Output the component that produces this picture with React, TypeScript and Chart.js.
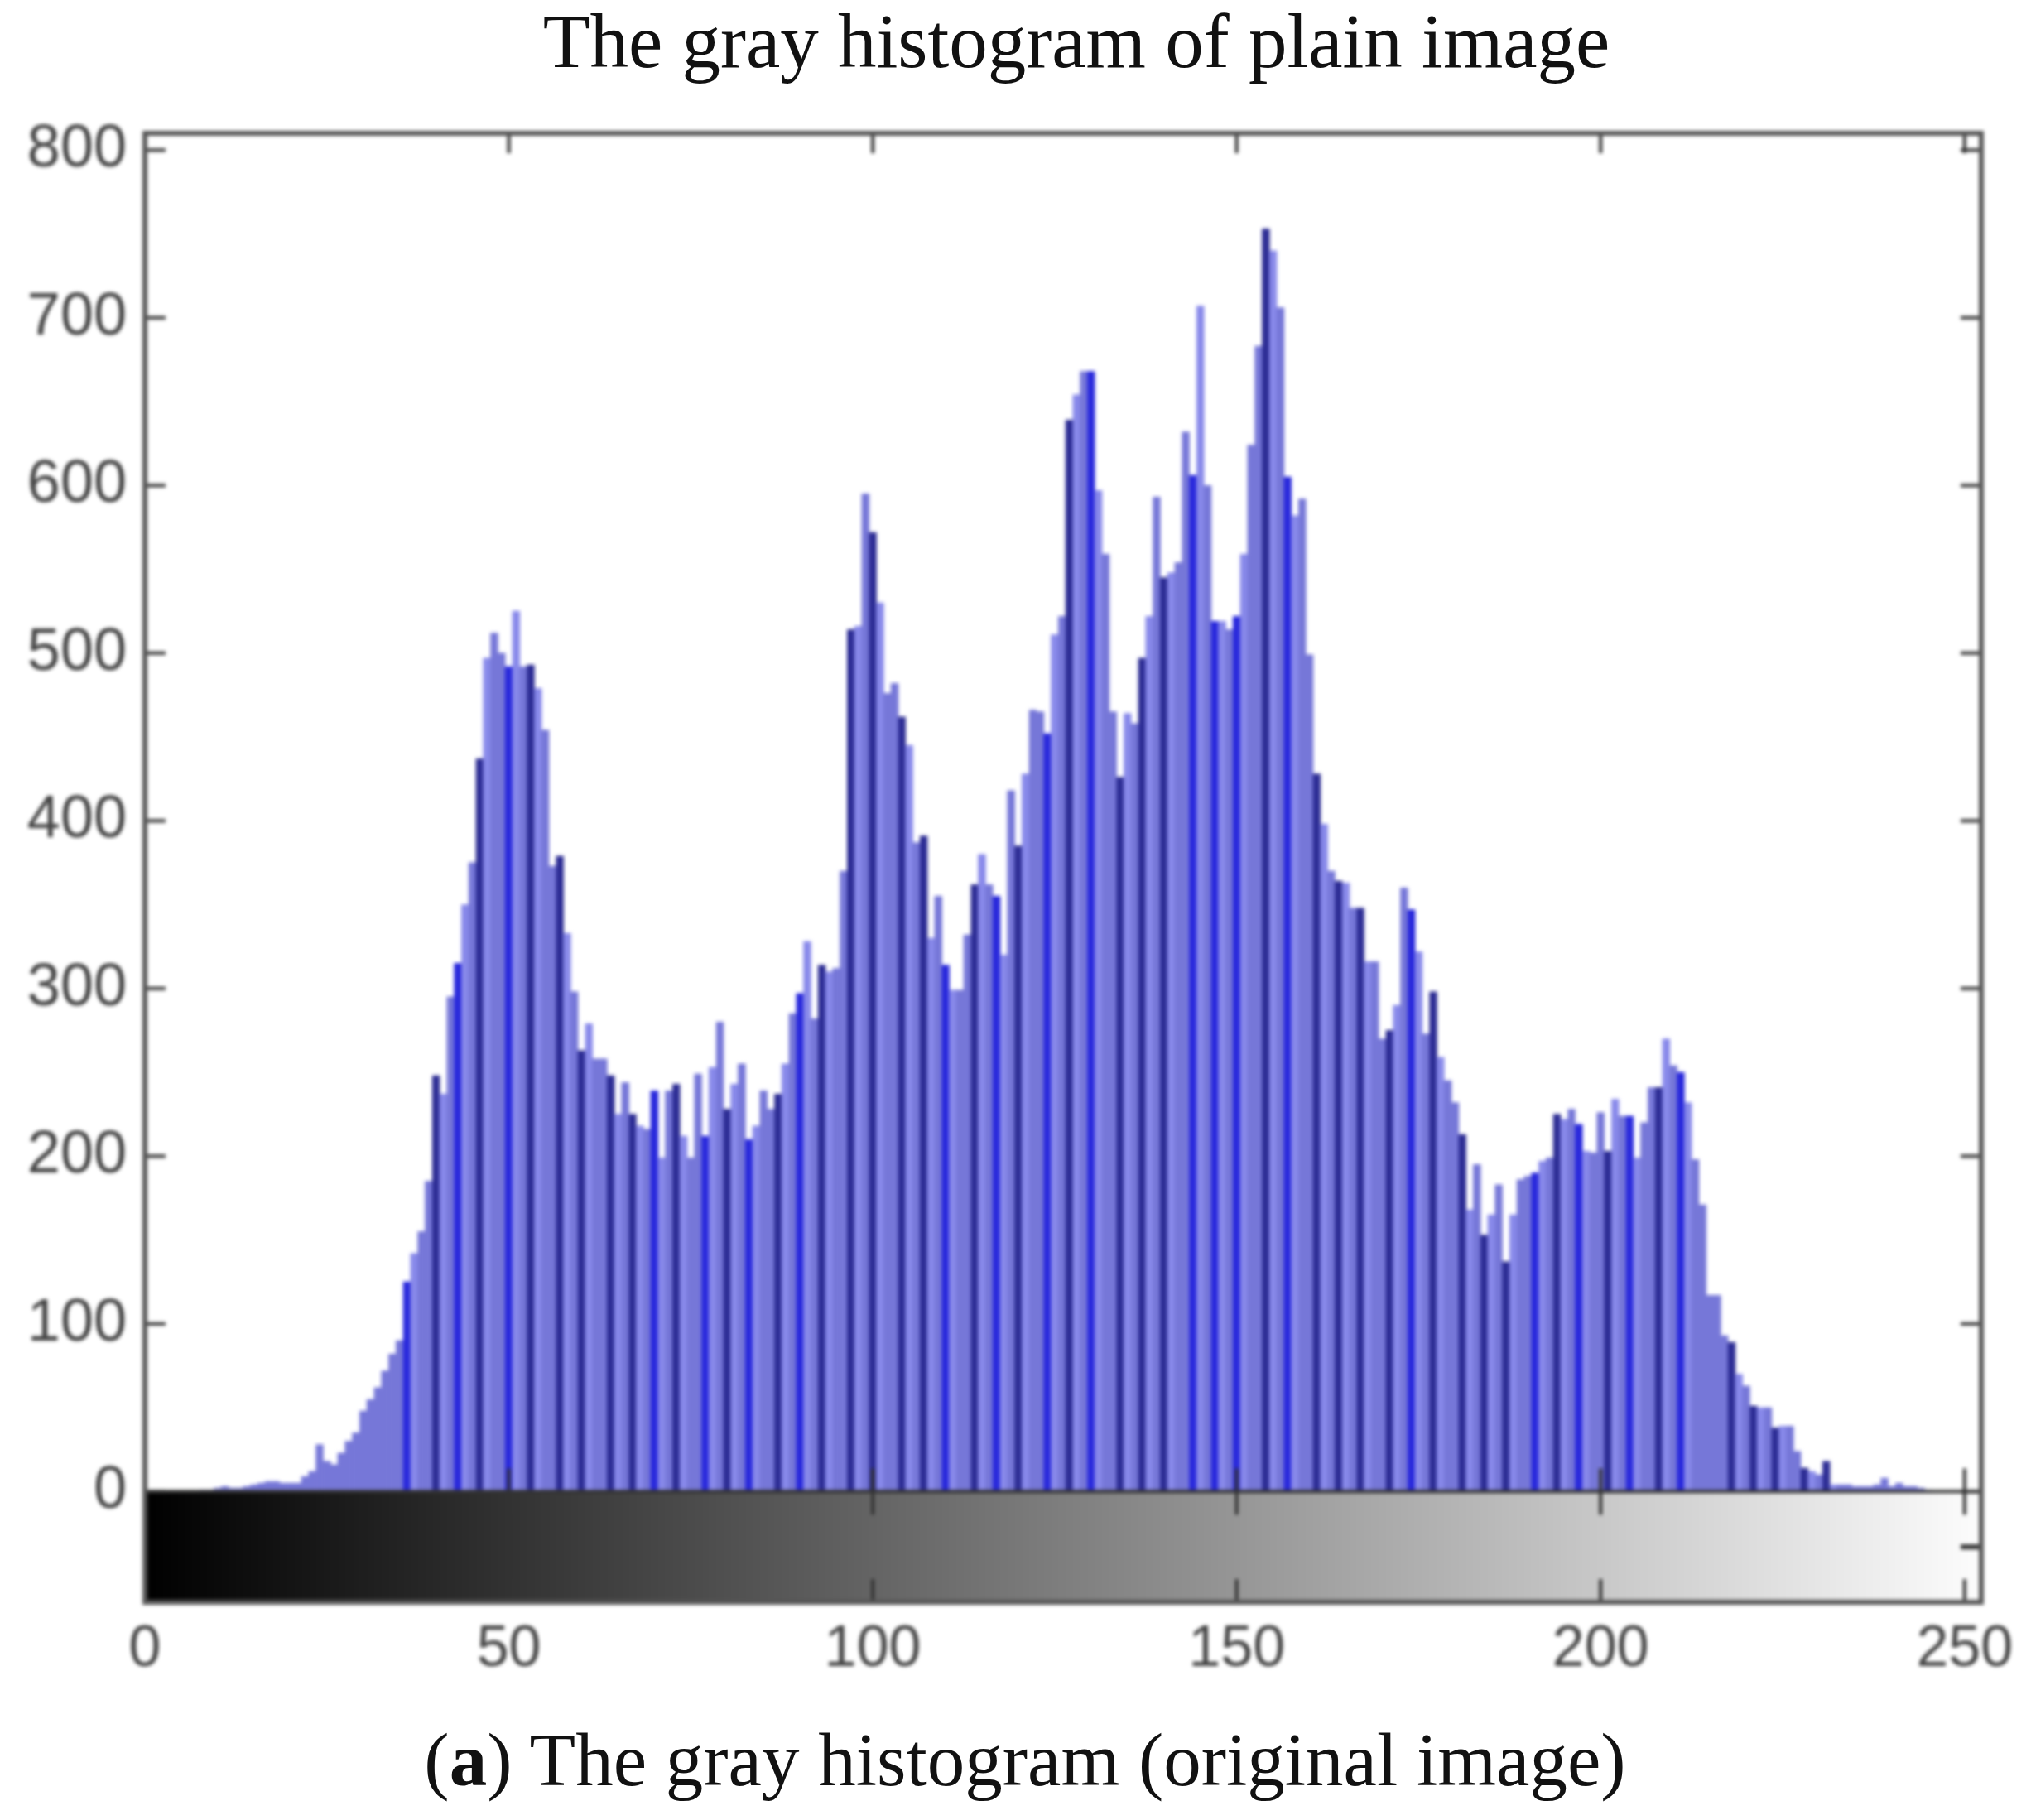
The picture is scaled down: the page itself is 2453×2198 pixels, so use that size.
import React, { useEffect, useRef } from 'react';
import { Chart, registerables } from 'chart.js';

Chart.register(...registerables);

// Histogram counts for gray levels 0..255
const counts = [
  0, 0, 0, 0, 0, 0, 0, 0, 1, 1,
  2, 3, 2, 2, 3, 4, 5, 6, 6, 5,
  5, 5, 9, 12, 28, 18, 16, 23, 30, 35,
  48, 55, 62, 72, 82, 90, 125, 142, 155, 185,
  248, 237, 295, 315, 350, 375, 437, 497, 512, 500,
  492, 525, 492, 493, 479, 454, 373, 379, 333, 298,
  263, 279, 258, 258, 248, 225, 244, 225, 218, 216,
  239, 199, 239, 243, 212, 199, 249, 212, 253, 280,
  228, 243, 255, 210, 218, 239, 228, 237, 255, 285,
  297, 328, 282, 314, 310, 312, 370, 514, 516, 595,
  572, 530, 476, 482, 462, 445, 387, 391, 330, 355,
  314, 299, 299, 332, 362, 380, 362, 355, 320, 418,
  385, 428, 466, 465, 452, 511, 522, 639, 654, 668,
  668, 597, 559, 465, 426, 464, 458, 497, 522, 593,
  545, 548, 554, 632, 606, 707, 600, 519, 519, 514,
  522, 559, 624, 683, 753, 740, 706, 605, 582, 592,
  499, 428, 398, 370, 364, 363, 348, 348, 316, 316,
  270, 275, 290, 360, 347, 322, 273, 298, 259, 245,
  232, 213, 168, 195, 153, 165, 183, 137, 165, 186,
  188, 190, 197, 199, 225, 222, 228, 219, 203, 202,
  226, 203, 234, 224, 224, 199, 220, 241, 241, 270,
  254, 250, 232, 198, 171, 117, 117, 93, 89, 70,
  63, 51, 50, 50, 38, 39, 39, 24, 14, 12,
  10, 18, 4, 4, 4, 3, 3, 3, 4, 8,
  3, 5, 3, 3, 2, 1, 0, 0, 0, 0,
  0, 0, 0, 0, 0, 0,
];
const grayLevels = counts.map((_, i) => i);

// the resampled picture leaves some bars darker than the rest
const navyBins = [40, 46, 53, 57, 60, 64, 67, 73, 80, 87, 93, 97, 100, 104, 107, 114, 120, 127, 134, 137, 140, 154, 161, 164, 167, 171, 177, 181, 184, 187, 194, 201, 208, 218, 221, 224, 228, 231];
const blueBins = [36, 43, 50, 70, 77, 83, 90, 110, 117, 124, 130, 144, 147, 150, 157, 174, 191, 197, 204, 211];

const xTicks = [0, 50, 100, 150, 200, 250];
const yTicks = [0, 100, 200, 300, 400, 500, 600, 700, 800];
const stripTickValue = -33;

const TITLE = 'The gray histogram of plain image';

const barColor = (i: number) => {
  if (navyBins.includes(i)) return '#2c2c94';
  if (blueBins.includes(i)) return '#2828dc';
  if (navyBins.includes(i - 1) || blueBins.includes(i - 1)) return '#8889ea';
  return '#7677d8';
};

// MATLAB style frame and inward ticks, placed with the chart's scales
const framePlugin = {
  id: 'frame',
  afterDraw(chart: any) {
    const { ctx, chartArea, scales } = chart;
    const { left, right, top, bottom } = chartArea;
    const zero = scales.y.getPixelForValue(0);
    ctx.save();
    ctx.strokeStyle = '#333';
    ctx.lineWidth = 4;
    const line = (x1: number, y1: number, x2: number, y2: number) => {
      ctx.beginPath();
      ctx.moveTo(x1, y1);
      ctx.lineTo(x2, y2);
      ctx.stroke();
    };
    line(left, zero, right, zero);
    xTicks.forEach((v) => {
      const x = scales.x.getPixelForValue(v);
      line(x, top, x, top + 24);
      line(x, bottom, x, bottom - 28);
      line(x, zero - 28, x, zero + 28);
    });
    yTicks.forEach((v) => {
      const y = scales.y.getPixelForValue(v);
      line(left, y, left + 25, y);
      line(right, y, right - 25, y);
    });
    const midY = scales.y.getPixelForValue(stripTickValue);
    ctx.lineWidth = 6;
    line(right, midY, right - 25, midY);
    ctx.strokeStyle = '#555';
    ctx.lineWidth = 6;
    ctx.strokeRect(left, top, right - left, bottom - top);
    ctx.restore();
  },
};

export default function App() {
  const canvasRef = useRef<HTMLCanvasElement>(null);

  useEffect(() => {
    if (!canvasRef.current) return;
    const chart = new Chart(canvasRef.current, {
      type: 'bar',
      data: {
        datasets: [
          {
            label: 'counts',
            data: grayLevels.map((g) => ({ x: g, y: counts[g] })),
            backgroundColor: (c: any) => barColor(c.dataIndex),
            barPercentage: 1,
            categoryPercentage: 1,
            grouped: false,
          },
          {
            label: 'gray strip',
            data: grayLevels.map((g) => ({ x: g, y: [-66, 0] })),
            backgroundColor: (c: any) => `rgb(${c.dataIndex},${c.dataIndex},${c.dataIndex})`,
            barPercentage: 1.1,
            categoryPercentage: 1,
            grouped: false,
          },
        ],
      } as any,
      options: {
        responsive: false,
        animation: false,
        layout: { padding: { left: 0, right: 60, top: 161, bottom: 163 } },
        plugins: { legend: { display: false }, tooltip: { enabled: false } },
        scales: {
          x: {
            type: 'linear',
            offset: false,
            min: 0,
            max: 252.3,
            grid: { display: false, drawTicks: false, offset: false },
            border: { display: false },
            afterFit: (s: any) => { s.height = 100; },
            afterBuildTicks: (s: any) => { s.ticks = xTicks.map((value) => ({ value })); },
            ticks: {
              maxRotation: 0,
              autoSkip: false,
              padding: 16,
              color: '#444',
              font: { family: '"Liberation Sans"', size: 70 },
            },
          },
          y: {
            min: -66,
            max: 810,
            grid: { display: false, drawTicks: false },
            border: { display: false },
            afterFit: (s: any) => { s.width = 175; },
            afterBuildTicks: (s: any) => { s.ticks = yTicks.map((value) => ({ value })); },
            ticks: {
              padding: 22,
              color: '#444',
              font: { family: '"Liberation Sans"', size: 72 },
            },
          },
        },
      },
      plugins: [framePlugin],
    } as any);
    return () => chart.destroy();
  }, []);

  return (
    <div style={{ position: 'absolute', left: 0, top: 0, width: 2453, height: 2198, overflow: 'hidden', background: '#fff' }}>
      <canvas ref={canvasRef} width={2453} height={2198} style={{ display: 'block', filter: 'blur(2px)' }} />
      <div style={{ position: 'absolute', top: 0, left: 0, width: 2600, textAlign: 'center', font: '93px "Liberation Serif"', color: '#111', lineHeight: '100px' }}>
        {TITLE}
      </div>
      <div style={{ position: 'absolute', top: 2076, left: 0, width: 2476, textAlign: 'center', font: '91px "Liberation Serif"', color: '#111', lineHeight: '100px' }}>
        (<b>a</b>) The gray histogram (original image)
      </div>
    </div>
  );
}
